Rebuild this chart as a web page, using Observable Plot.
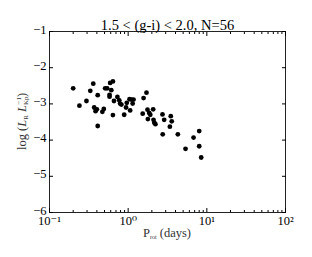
<!DOCTYPE html>
<html>
<head>
<meta charset="utf-8">
<script src="https://cdn.jsdelivr.net/npm/d3@7"></script>
<script src="https://cdn.jsdelivr.net/npm/@observablehq/plot@0.6"></script>
<style>
  html, body { margin: 0; padding: 0; background: #fff; }
  svg { display: block; }
</style>
</head>
<body>
<div id="chart"></div>
<script>
const titleText = ["1.5 < (g-i) < 2.0, N=56"];
const period = [0.20, 0.24, 0.295, 0.33, 0.36, 0.37, 0.385, 0.40, 0.41, 0.41,
  0.47, 0.49, 0.51, 0.54, 0.59, 0.61, 0.58, 0.58, 0.64, 0.64,
  0.66, 0.73, 0.77, 0.79, 0.82, 0.89, 0.94, 0.96, 1.04, 1.06,
  1.10, 1.14, 1.17, 1.57, 1.71, 1.53, 1.76, 1.78, 1.85, 1.91,
  2.08, 2.10, 2.15, 2.22, 2.73, 2.87, 2.75, 3.48, 3.58, 3.39,
  4.28, 5.36, 6.78, 8.0, 8.0, 8.48];
const logL = [-2.57, -3.05, -2.92, -2.64, -2.44, -3.10, -3.20, -3.15, -2.76, -3.61,
  -3.22, -3.14, -2.57, -2.57, -2.42, -2.62, -2.75, -2.80, -2.38, -3.31,
  -2.92, -2.81, -2.90, -2.99, -3.02, -3.30, -3.10, -2.97, -2.87, -3.18,
  -2.88, -2.99, -2.88, -2.84, -2.69, -3.27, -3.16, -3.42, -3.25, -3.30,
  -3.15, -3.44, -3.52, -3.56, -3.29, -3.44, -3.84, -3.34, -3.48, -3.63,
  -3.84, -4.24, -3.93, -3.75, -4.17, -4.48];
const xMajor = [0.1, 1, 10, 100];
const xMajorLabels = ["10\u207B\u00B9", "10\u2070", "10\u00B9", "10\u00B2"];
const xMinor = [0.2,0.3,0.4,0.5,0.6,0.7,0.8,0.9, 2,3,4,5,6,7,8,9, 20,30,40,50,60,70,80,90];
const yMajor = [-6, -5, -4, -3, -2, -1];
const yMajorLabels = ["\u22126", "\u22125", "\u22124", "\u22123", "\u22122", "\u22121"];

const data = period.map((p, i) => ({p, v: logL[i]}));
const font = "'Liberation Serif', 'DejaVu Serif', serif";

const chart = Plot.plot({
  width: 312,
  height: 257,
  marginLeft: 49,
  marginRight: 27,
  marginTop: 31,
  marginBottom: 45,
  style: {fontFamily: font, fontSize: "12px", color: "#000", background: "#fff"},
  x: {type: "log", domain: [0.1, 100]},
  y: {domain: [-6, -1]},
  marks: [
    Plot.frame({stroke: "#222", strokeWidth: 1}),
    Plot.axisX({anchor: "bottom", ticks: xMajor, tickSize: -4, tickFormat: () => "", label: null}),
    Plot.axisX({anchor: "top", ticks: xMajor, tickSize: -4, tickFormat: () => "", label: null}),
    Plot.axisX({anchor: "bottom", ticks: xMinor, tickSize: -2, tickFormat: () => "", label: null}),
    Plot.axisX({anchor: "top", ticks: xMinor, tickSize: -2, tickFormat: () => "", label: null}),
    Plot.axisX({anchor: "bottom", ticks: xMajor, tickSize: 0, tickPadding: 4,
      tickFormat: d => xMajorLabels[xMajor.indexOf(d)], label: null, fontSize: 12.5}),
    Plot.axisY({anchor: "left", ticks: yMajor, tickSize: -4, tickFormat: () => "", label: null}),
    Plot.axisY({anchor: "right", ticks: yMajor, tickSize: -4, tickFormat: () => "", label: null}),
    Plot.axisY({anchor: "left", ticks: yMajor, tickSize: 0, tickPadding: 3, dy: -2,
      tickFormat: d => yMajorLabels[yMajor.indexOf(d)], label: null, fontSize: 12.5}),
    Plot.dot(data, {x: "p", y: "v", r: 2.4, fill: "#000", stroke: null}),
    Plot.text(titleText, {frameAnchor: "top", lineAnchor: "bottom", dy: -2, fontSize: 14.5, fill: "#000"})
  ]
});

document.getElementById("chart").appendChild(chart);

const svg = d3.select(chart);
const cx = (49 + (312 - 27)) / 2;
const cy = (31 + (257 - 45)) / 2;
const xl = svg.append("text")
  .attr("x", cx).attr("y", 237)
  .attr("text-anchor", "middle")
  .attr("font-family", font).attr("font-size", 12.5).attr("fill", "#333");
xl.append("tspan").text("P");
xl.append("tspan").attr("font-size", 6).attr("dy", 2).text("rot");
xl.append("tspan").attr("dy", -2).text(" (days)");

const yl = svg.append("text")
  .attr("transform", `translate(26,${cy}) rotate(-90)`)
  .attr("text-anchor", "middle")
  .attr("font-family", font).attr("font-size", 12.5).attr("fill", "#333");
yl.append("tspan").text("log (");
yl.append("tspan").attr("font-style", "italic").text("L");
yl.append("tspan").attr("font-size", 7).attr("dy", 2).text("R");
yl.append("tspan").attr("dy", -2).text(" ");
yl.append("tspan").attr("font-style", "italic").text("L");
yl.append("tspan").attr("font-size", 7).attr("dy", 2).text("Kp");
yl.append("tspan").attr("font-size", 7).attr("dy", -7).attr("dx", -8).text("\u22121");
yl.append("tspan").attr("dy", 5).text(")");
</script>
</body>
</html>
